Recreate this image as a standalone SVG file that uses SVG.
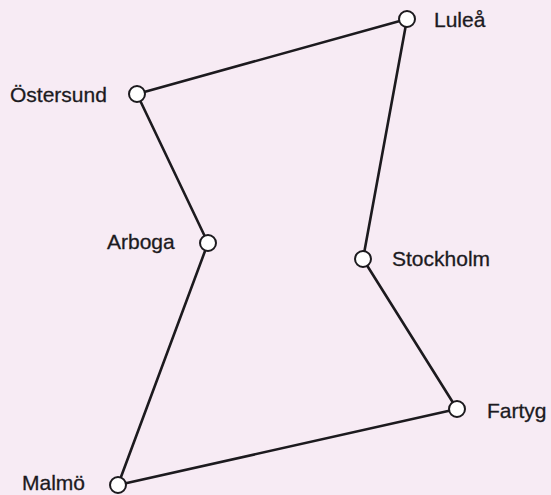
<svg xmlns="http://www.w3.org/2000/svg" width="551" height="495" viewBox="0 0 551 495">
<style>
.edge{stroke:#1c1a1e;stroke-width:2.6;fill:none;stroke-linecap:round}
.node{fill:#ffffff;stroke:#1c1a1e;stroke-width:2}
.label{font-family:"Liberation Sans",Arial,sans-serif;font-size:21px;fill:#1c1a1e;stroke:#1c1a1e;stroke-width:0.3}
</style>
<rect width="551" height="495" fill="#f7ebf4"/>
<g id="connectors">
<line class="edge" x1="137" y1="94" x2="407" y2="19"/>
<line class="edge" x1="407" y1="19" x2="363" y2="259"/>
<line class="edge" x1="363" y1="259" x2="457" y2="409"/>
<line class="edge" x1="457" y1="409" x2="118" y2="485"/>
<line class="edge" x1="118" y1="485" x2="208" y2="243"/>
<line class="edge" x1="208" y1="243" x2="137" y2="94"/>
</g>
<g id="lulea"><circle class="node" cx="407" cy="19" r="8"/><text class="label" x="434" y="27">Luleå</text></g>
<g id="ostersund"><circle class="node" cx="137" cy="94" r="8"/><text class="label" x="10" y="102">Östersund</text></g>
<g id="arboga"><circle class="node" cx="208" cy="243" r="8"/><text class="label" x="107" y="249">Arboga</text></g>
<g id="stockholm"><circle class="node" cx="363" cy="259" r="8"/><text class="label" x="392" y="266">Stockholm</text></g>
<g id="fartyg"><circle class="node" cx="457" cy="409" r="8"/><text class="label" x="487" y="418">Fartyg</text></g>
<g id="malmo"><circle class="node" cx="118" cy="485" r="8"/><text class="label" x="22" y="490">Malmö</text></g>
</svg>
